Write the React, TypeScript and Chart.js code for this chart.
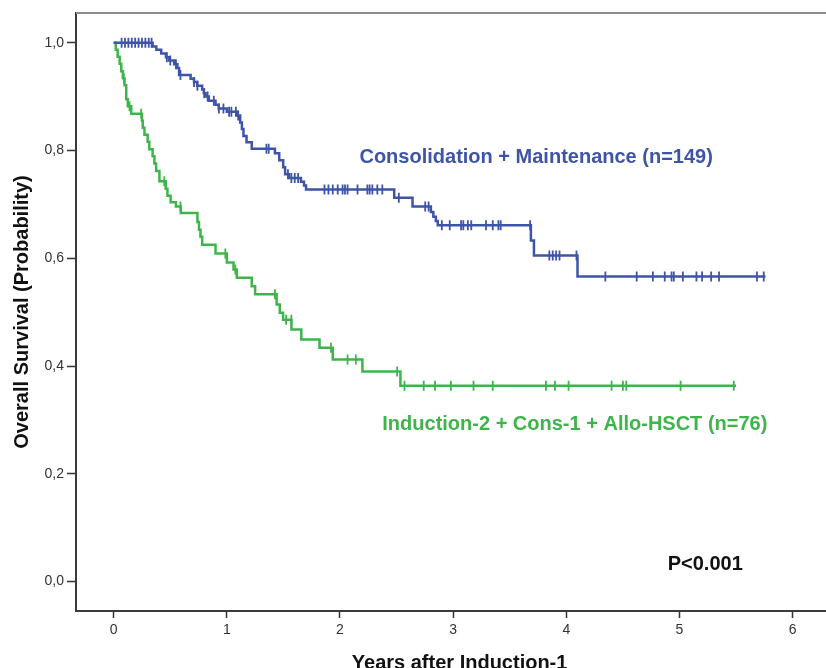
import { useEffect, useRef } from 'react';
import { Chart, registerables } from 'chart.js';

Chart.register(...registerables);

// Axis ticks
const xTicks = [0, 1, 2, 3, 4, 5, 6];
const yTicks = [0, 0.2, 0.4, 0.6, 0.8, 1.0];
const yTickLabels = ['0,0', '0,2', '0,4', '0,6', '0,8', '1,0'];

// Consolidation + Maintenance (n=149): event times (years) and survival after each event
const consTimes = [
  0.344, 0.377, 0.42, 0.462, 0.49, 0.534, 0.563, 0.578, 0.68, 0.71, 0.738, 0.782, 0.797, 0.812,
  0.841, 0.9, 0.928, 1.0, 1.089, 1.118, 1.133, 1.147, 1.174, 1.22, 1.425, 1.463, 1.498, 1.515,
  1.55, 1.655, 1.682, 1.7, 2.479, 2.641, 2.803, 2.825, 2.847, 2.864, 3.687, 3.714, 4.099,
];
const consSurv = [
  0.993, 0.987, 0.98, 0.973, 0.967, 0.96, 0.953, 0.94, 0.933, 0.927, 0.92, 0.913, 0.906, 0.9,
  0.892, 0.885, 0.878, 0.872, 0.865, 0.852, 0.84, 0.827, 0.815, 0.803, 0.795, 0.782, 0.769, 0.756,
  0.749, 0.742, 0.735, 0.7275, 0.712, 0.696, 0.686, 0.677, 0.669, 0.661, 0.633, 0.605, 0.566,
];
const consLastFollowUp = 5.76;
const consCensored = [
  0.07, 0.1, 0.13, 0.16, 0.19, 0.22, 0.25, 0.28, 0.31, 0.335,
  0.47, 0.5, 0.55, 0.59, 0.71, 0.74, 0.8, 0.83, 0.885, 0.93, 0.97, 1.02, 1.04, 1.08, 1.1,
  1.35, 1.37, 1.54, 1.57, 1.6, 1.63,
  1.863, 1.898, 1.936, 1.98, 2.023, 2.044, 2.067, 2.155, 2.242, 2.262, 2.286, 2.33, 2.374,
  2.52, 2.753, 2.783,
  2.9, 2.97, 3.07, 3.09, 3.13, 3.16, 3.29, 3.35, 3.4, 3.42, 3.68,
  3.85, 3.88, 3.91, 3.94, 4.09,
  4.345, 4.622, 4.765, 4.87, 4.93, 4.95, 5.03, 5.15, 5.2, 5.28, 5.35, 5.685, 5.745,
];

// Induction-2 + Cons-1 + Allo-HSCT (n=76)
const alloTimes = [
  0.018, 0.035, 0.053, 0.067, 0.081, 0.096, 0.111, 0.125, 0.155, 0.25, 0.257, 0.272, 0.3, 0.315,
  0.344, 0.36, 0.375, 0.404, 0.46, 0.475, 0.503, 0.55, 0.593, 0.74, 0.754, 0.767, 0.782, 0.9, 1.0,
  1.059, 1.088, 1.22, 1.25, 1.44, 1.468, 1.497, 1.571, 1.658, 1.819, 1.936, 2.198, 2.534,
];
const alloSurv = [
  0.987, 0.974, 0.961, 0.947, 0.934, 0.921, 0.895, 0.882, 0.868, 0.855, 0.842, 0.829, 0.816, 0.802,
  0.789, 0.776, 0.762, 0.743, 0.729, 0.716, 0.704, 0.696, 0.684, 0.667, 0.653, 0.64, 0.625, 0.609, 0.592,
  0.579, 0.564, 0.548, 0.533, 0.514, 0.499, 0.486, 0.468, 0.449, 0.434, 0.412, 0.39, 0.3635,
];
const alloLastFollowUp = 5.5;
const alloCensored = [
  0.09, 0.14, 0.243, 0.447, 0.59, 0.987, 1.075, 1.425, 1.524, 1.57, 1.92, 2.067, 2.14, 2.505,
  2.57, 2.74, 2.84, 2.98, 3.18, 3.35, 3.82, 3.9, 4.02, 4.4, 4.5, 4.53, 5.01, 5.48,
];

const BLUE = '#3E54A7';
const GREEN = '#3DB54B';
const FONT = '"Liberation Sans", Arial, Helvetica, sans-serif';

function stepPoints(times: number[], surv: number[], end: number) {
  const pts = [{ x: 0, y: 1 }];
  times.forEach((t, i) => pts.push({ x: t, y: surv[i] }));
  pts.push({ x: end, y: surv[surv.length - 1] });
  return pts;
}

function survivalAt(times: number[], surv: number[], t: number) {
  let s = 1;
  for (let i = 0; i < times.length; i++) if (times[i] <= t) s = surv[i];
  return s;
}

function censorPoints(times: number[], surv: number[], censored: number[]) {
  return censored.map((t) => ({ x: t, y: survivalAt(times, surv, t) }));
}

// Text placed inside the plot, anchored in data units (left edge, vertical middle)
const plotNotes = [
  { text: 'Consolidation + Maintenance (n=149)', x: 2.172, y: 0.787, color: BLUE },
  { text: 'Induction-2 + Cons-1 + Allo-HSCT (n=76)', x: 2.374, y: 0.291, color: GREEN },
  { text: 'P<0.001', x: 4.896, y: 0.031, color: '#111111' },
];

const framePlugin = {
  id: 'topFrame',
  beforeDatasetsDraw(chart: any) {
    const { ctx, chartArea } = chart;
    ctx.save();
    ctx.strokeStyle = '#8c8c8c';
    ctx.lineWidth = 2;
    ctx.beginPath();
    ctx.moveTo(chartArea.left, chartArea.top);
    ctx.lineTo(chartArea.right, chartArea.top);
    ctx.stroke();
    ctx.restore();
  },
};

const notesPlugin = {
  id: 'plotNotes',
  afterDatasetsDraw(chart: any) {
    const { ctx, scales } = chart;
    ctx.save();
    ctx.font = `bold 20px ${FONT}`;
    ctx.textAlign = 'left';
    ctx.textBaseline = 'middle';
    for (const n of plotNotes) {
      ctx.fillStyle = n.color;
      ctx.fillText(n.text, scales.x.getPixelForValue(n.x), scales.y.getPixelForValue(n.y));
    }
    ctx.restore();
  },
};

export default function App() {
  const canvasRef = useRef<HTMLCanvasElement | null>(null);

  useEffect(() => {
    if (!canvasRef.current) return;
    const chart = new Chart(canvasRef.current, {
      type: 'scatter',
      data: {
        datasets: [
          {
            data: stepPoints(consTimes, consSurv, consLastFollowUp),
            showLine: true,
            stepped: true,
            borderColor: BLUE,
            borderWidth: 2.5,
            pointRadius: 0,
            fill: false,
          },
          {
            data: censorPoints(consTimes, consSurv, consCensored),
            showLine: false,
            pointStyle: 'line',
            pointRotation: 90,
            pointRadius: 5,
            pointBorderColor: BLUE,
            pointBorderWidth: 1.8,
          },
          {
            data: stepPoints(alloTimes, alloSurv, alloLastFollowUp),
            showLine: true,
            stepped: true,
            borderColor: GREEN,
            borderWidth: 2.5,
            pointRadius: 0,
            fill: false,
          },
          {
            data: censorPoints(alloTimes, alloSurv, alloCensored),
            showLine: false,
            pointStyle: 'line',
            pointRotation: 90,
            pointRadius: 5,
            pointBorderColor: GREEN,
            pointBorderWidth: 1.8,
          },
        ] as any,
      },
      options: {
        responsive: false,
        animation: false,
        events: [],
        layout: { padding: { top: 13, left: 0, right: 0, bottom: 0 } },
        plugins: { legend: { display: false }, tooltip: { enabled: false } },
        scales: {
          x: {
            type: 'linear',
            min: -0.333,
            max: 6.447,
            afterBuildTicks: (s: any) => {
              s.ticks = xTicks.map((v) => ({ value: v }));
            },
            afterFit: (s: any) => {
              s.height = 79;
            },
            grid: {
              drawOnChartArea: false,
              drawTicks: true,
              tickLength: 7,
              tickColor: '#333333',
              tickWidth: 1.5,
            },
            border: { display: true, color: '#3a3a3a', width: 2 },
            ticks: {
              color: '#333333',
              font: { size: 14, family: FONT },
              padding: 4,
              maxRotation: 0,
              autoSkip: false,
              callback: (v: any) => String(v),
            },
            title: {
              display: true,
              text: 'Years after Induction-1',
              color: '#111111',
              font: { size: 20, weight: 'bold', family: FONT },
              padding: { top: 0, bottom: 15 },
            },
          },
          y: {
            type: 'linear',
            min: -0.0545,
            max: 1.055,
            afterBuildTicks: (s: any) => {
              s.ticks = yTicks.map((v) => ({ value: v }));
            },
            afterFit: (s: any) => {
              s.width = 76;
            },
            grid: {
              drawOnChartArea: false,
              drawTicks: true,
              tickLength: 9,
              tickColor: '#333333',
              tickWidth: 1.5,
            },
            border: { display: true, color: '#3a3a3a', width: 2 },
            ticks: {
              color: '#333333',
              font: { size: 14, family: FONT },
              padding: 3,
              autoSkip: false,
              callback: (_v: any, i: number) => yTickLabels[i],
            },
            title: {
              display: true,
              text: 'Overall Survival (Probability)',
              color: '#111111',
              font: { size: 20, weight: 'bold', family: FONT },
              padding: { top: 10, bottom: 0 },
            },
          },
        },
      } as any,
      plugins: [framePlugin, notesPlugin],
    });
    return () => chart.destroy();
  }, []);

  return (
    <div
      style={{
        position: 'fixed',
        left: 0,
        top: 0,
        width: 826,
        height: 668,
        overflow: 'hidden',
        background: '#ffffff',
      }}
    >
      <canvas ref={canvasRef} width={850} height={690} style={{ display: 'block' }} />
    </div>
  );
}
